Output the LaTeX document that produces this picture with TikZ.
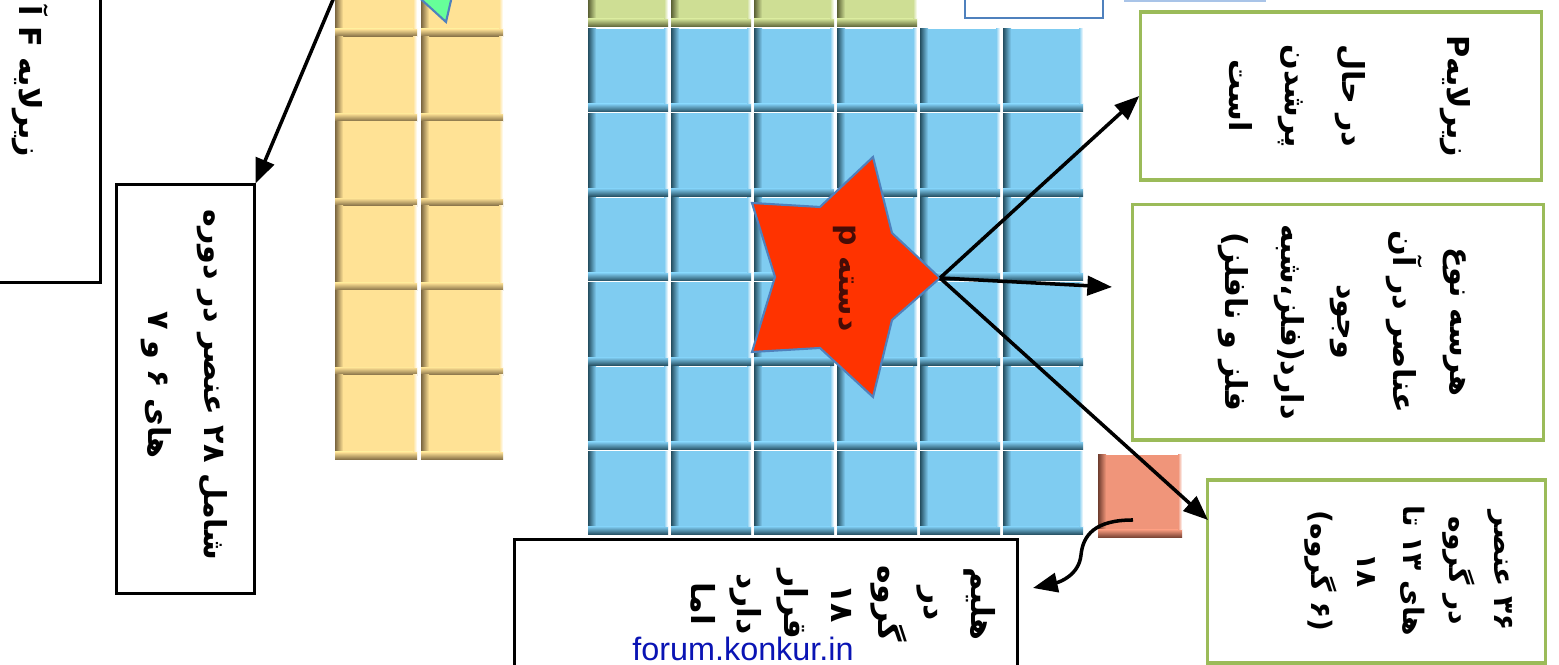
\documentclass[tikz,border=0pt]{standalone}
\usepackage{fontspec}
\usepackage{tikz}
\usetikzlibrary{arrows.meta, calc, positioning}
\TeXXeTstate=1
\newfontfamily\arabicfont[Script=Arabic]{DejaVu Sans}
\newfontfamily\latinfont{Liberation Sans}
\definecolor{tileY}{HTML}{FFE295}
\definecolor{tileYdark}{HTML}{7A6640}
\definecolor{tileB}{HTML}{7FCCF1}
\definecolor{tileBdark}{HTML}{244E60}
\definecolor{tileG}{HTML}{CEDE94}
\definecolor{tileGdark}{HTML}{5A6034}
\definecolor{tileO}{HTML}{F0957A}
\definecolor{tileOdark}{HTML}{6E3C2E}
\definecolor{boxGreen}{HTML}{9BBB59}
\definecolor{boxBlue}{HTML}{4F81BD}
\definecolor{boxLight}{HTML}{A9C4E8}
\definecolor{starRed}{HTML}{FF3300}
\definecolor{arrowGreen}{HTML}{66FF99}
\definecolor{linkBlue}{HTML}{0A14B4}

% one tile of the table: x, y, width, height, colour
\newcommand{\ptile}[5]{%
  \fill[#5] (#1,#2) rectangle ++(#3,#4);
  \shade[left color=#5dark, right color=#5] (#1,#2) rectangle ++(8,#4);
  \shade[top color=#5, bottom color=#5dark] (#1,#2+#4-8) rectangle ++(#3,8);
  \shade[left color=#5, right color=white] (#1+#3-4,#2) rectangle ++(4,#4-8);
}

\begin{document}
\begin{tikzpicture}[x=0.01cm, y=-0.01cm,
    arr/.style={line width=1pt, -{Triangle[length=7pt,width=5.5pt]}},
    blackbox/.style={draw=black, line width=0.85pt, fill=white, inner sep=0pt},
    greenbox/.style={draw=boxGreen, line width=0.9pt, fill=white, inner sep=0pt},
    vtext/.style={rotate=-90, align=center, inner sep=0pt,
      font=\arabicfont\bfseries\fontsize{8.6}{16}\selectfont}]
    \clip (0,0) rectangle (1559,665);
    \fill[white] (0,0) rectangle (1559,665);

    % f block
    \foreach \x in {335,421}
      \foreach \y in {-48,36.6,121.2,205.8,290.4,375}
        {\ptile{\x}{\y}{82}{85}{tileY}}
    % d block (last row)
    \foreach \x in {588,671,754,837}
      {\ptile{\x}{-56}{80}{83}{tileG}}
    % p block
    \foreach \x in {588,671,754,837,920,1003}
      \foreach \y in {29,113.5,198,282.5,367,451.5}
        {\ptile{\x}{\y}{80}{83}{tileB}}
    % helium
    \ptile{1098}{455}{84}{83}{tileO}

    % shapes cut by the top edge
    \node[draw=boxBlue, line width=0.6pt, fill=white, minimum width=1.38cm, minimum height=0.48cm] (topbox) at (1034,-6) {};
    \node[draw=boxLight, line width=0.6pt, minimum width=1.4cm, minimum height=0.4cm] (topline) at (1195,-19.5) {};
    \filldraw[fill=arrowGreen, draw=boxBlue, line width=0.6pt] (389,-30) -- (458,-30) -- (446,22) -- cycle;

    % star
    \filldraw[fill=starRed, draw=boxBlue, line width=0.6pt]
      (940,278) -- (892,233) -- (873,157) -- (820,207) -- (752,203) -- (775,277)
      -- (752,352) -- (820,348) -- (873,397) -- (892,320) -- cycle;
    \coordinate (pTip) at (940,278);
    \node[vtext, font=\arabicfont\bfseries\fontsize{8.5}{10}\selectfont,
      text={rgb,255:red,70;green,12;blue,6}] (pblock) at (845,278) {\beginR دسته p\endR};

    % boxes
    \node[blackbox, minimum width=1.3cm, minimum height=3.12cm] (fsub) at (35,126) {};
    \node[vtext, anchor=east] (fsubText) at (30,158) {\beginR زیرلایه F آ\endR};

    \node[blackbox, minimum width=1.37cm, minimum height=4.08cm] (p67) at (185.5,389) {};
    \node[vtext] (p67Text) at (184,385)
      {\beginR شامل ۲۸ عنصر در دوره\endR\\\beginR های ۶ و ۷\endR};

    \node[greenbox, minimum width=4cm, minimum height=1.68cm] (sub) at (1341,96) {};
    \node[vtext] (subText) at (1350,96)
      {\beginR زیرلایهP\endR\\[14pt]\beginR در حال\endR\\\beginR پرشدن\endR\\\beginR است\endR};

    \node[greenbox, minimum width=4.1cm, minimum height=2.35cm] (mix) at (1338,322.5) {};
    \node[vtext] (mixText) at (1342,322)
      {\beginR هرسه نوع\endR\\\beginR عناصر در آن\endR\\\beginR وجود\endR\\\beginR دارد(فلز،شبه\endR\\\beginR فلز و نافلز)\endR};

    \node[greenbox, minimum width=3.37cm, minimum height=1.83cm] (grp) at (1376.5,571.5) {};
    \node[vtext, font=\arabicfont\bfseries\fontsize{8}{13}\selectfont] (grpText) at (1409,571)
      {\beginR ۳۶ عنصر\endR\\\beginR در گروه\endR\\\beginR های ۱۳ تا\endR\\\beginR ۱۸\endR\\\beginR(۶ گروه)\endR};

    \node[blackbox, minimum width=5.02cm, minimum height=1.6cm] (he) at (766,620) {};
    \node[vtext, font=\arabicfont\bfseries\fontsize{9}{13.3}\selectfont] (heText) at (843,604)
      {\beginR هلیم\endR\\\beginR در\endR\\\beginR گروه\endR\\\beginR ۱۸\endR\\\beginR قرار\endR\\\beginR دارد\endR\\\beginR اما\endR};
    \node[font=\latinfont\fontsize{9.2}{11}\selectfont, text=linkBlue, anchor=base] (site) at (743,661) {forum.konkur.in};

    % arrows
    \coordinate (fTop) at (335,-5);
    \coordinate (mixEnd) at (1112,287);
    \coordinate (grpEnd) at (1208,520);
    \coordinate (heStart) at (1133,520);
    \coordinate (heEnd) at (1033,588);
    \draw[arr] (fTop) -- (p67.north east);
    \draw[arr] (pTip) -- (sub.west);
    \draw[arr] (pTip) -- (mixEnd);
    \draw[arr] (pTip) -- (grpEnd);
    \draw[arr] (heStart) .. controls (1095,520) and (1083,535) .. (1081,555)
      .. controls (1079,575) and (1060,582) .. (heEnd);
\end{tikzpicture}
\end{document}
